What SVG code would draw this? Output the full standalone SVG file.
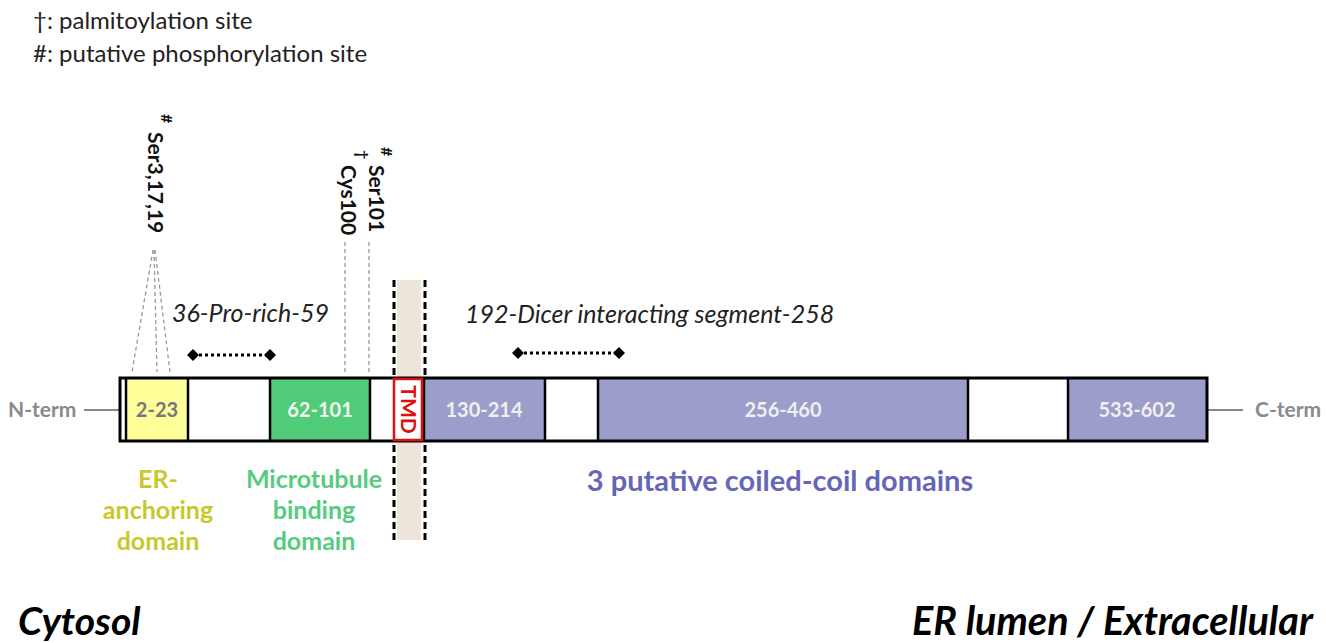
<svg xmlns="http://www.w3.org/2000/svg" width="1326" height="643" viewBox="0 0 1326 643">
<style>
text{font-family:Lato,"Open Sans","Liberation Sans",sans-serif}
.leg{font-size:24px;fill:#222}
.term{font-size:21px;fill:#8a8a8a;font-weight:bold}
.seg{stroke:#000;stroke-width:2.5}
.lbl{font-size:20px;font-weight:bold;text-anchor:middle}
.site{font-size:21px;font-weight:bold;fill:#111}
.mark{font-size:16px;font-weight:bold;fill:#111}
.gd{stroke:#999;stroke-width:1.3;stroke-dasharray:4 3;fill:none}
.dot{stroke:#000;stroke-width:3;stroke-dasharray:3 3}
.it{font-size:25px;font-style:italic;fill:#222}
.tmdl{stroke:#000;stroke-width:3;stroke-dasharray:7 4}
.big{font-size:39px;font-weight:bold;font-style:italic;fill:#000}
.dlab{font-size:25px;font-weight:bold;text-anchor:middle}
</style>
<defs>
<marker id="dia" markerWidth="12" markerHeight="12" refX="6" refY="6" markerUnits="userSpaceOnUse" orient="auto">
<path d="M0,6 L6,0 L12,6 L6,12 Z" fill="#000"/>
</marker>
</defs>
<rect width="1326" height="643" fill="#fff"/>

<g id="legend">
<text class="leg" x="33" y="29">†: palmitoylation site</text>
<text class="leg" x="33" y="62">#: putative phosphorylation site</text>
</g>

<g id="tmd-band">
<rect x="397" y="280" width="24" height="260" fill="#ede4da"/>
</g>

<g id="connectors">
<line x1="84" y1="410" x2="120" y2="410" stroke="#888" stroke-width="2"/>
<line x1="1207" y1="410" x2="1243" y2="410" stroke="#888" stroke-width="2"/>
<line class="gd" x1="153" y1="250" x2="132" y2="372"/>
<line class="gd" x1="154" y1="250" x2="157" y2="372"/>
<line class="gd" x1="155" y1="250" x2="170" y2="372"/>
<line class="gd" x1="345" y1="242" x2="345" y2="372"/>
<line class="gd" x1="369" y1="242" x2="369" y2="372"/>
<line class="dot" x1="193" y1="355" x2="270" y2="355" marker-start="url(#dia)" marker-end="url(#dia)"/>
<line class="dot" x1="518" y1="353" x2="619" y2="353" marker-start="url(#dia)" marker-end="url(#dia)"/>
<line class="tmdl" x1="394" y1="280" x2="394" y2="540"/>
<line class="tmdl" x1="425" y1="280" x2="425" y2="540"/>
</g>

<g id="n-term"><text class="term" x="8" y="417">N-term</text></g>
<g id="c-term"><text class="term" x="1255" y="417">C-term</text></g>

<g id="bar">
<rect x="120" y="378" width="1087" height="63" fill="#fff"/>
<g id="seg-2-23">
<rect x="127" y="378" width="61" height="63" fill="#ffff99"/>
<text class="lbl" x="157" y="417" fill="#77767f">2-23</text>
</g>
<g id="seg-62-101">
<rect x="270" y="378" width="100" height="63" fill="#50cc78"/>
<text class="lbl" x="320" y="417" fill="#f4f4f4">62-101</text>
</g>
<g id="seg-130-214">
<rect x="424" y="378" width="121" height="63" fill="#9b9dcb"/>
<text class="lbl" x="484" y="417" fill="#f0f0f0">130-214</text>
</g>
<g id="seg-256-460">
<rect x="598" y="378" width="370" height="63" fill="#9b9dcb"/>
<text class="lbl" x="783" y="417" fill="#f0f0f0">256-460</text>
</g>
<g id="seg-533-602">
<rect x="1068" y="378" width="139" height="63" fill="#9b9dcb"/>
<text class="lbl" x="1137" y="417" fill="#f0f0f0">533-602</text>
</g>
<line class="seg" x1="126" y1="378" x2="126" y2="441"/>
<line class="seg" x1="188" y1="378" x2="188" y2="441"/>
<line class="seg" x1="270" y1="378" x2="270" y2="441"/>
<line class="seg" x1="370" y1="378" x2="370" y2="441"/>
<line class="seg" x1="424" y1="378" x2="424" y2="441"/>
<line class="seg" x1="545" y1="378" x2="545" y2="441"/>
<line class="seg" x1="598" y1="378" x2="598" y2="441"/>
<line class="seg" x1="968" y1="378" x2="968" y2="441"/>
<line class="seg" x1="1068" y1="378" x2="1068" y2="441"/>
<rect x="120" y="378" width="1087" height="63" fill="none" stroke="#000" stroke-width="3"/>
</g>

<g id="tmd">
<rect x="394" y="379" width="28" height="61" fill="#fff" stroke="#e01010" stroke-width="2.5"/>
<text transform="translate(401,409.5) rotate(90)" font-size="21" font-weight="bold" fill="#e01010" text-anchor="middle">TMD</text>
</g>

<g id="site-ser3">
<text class="site" transform="translate(148,132) rotate(90)">Ser3,17,19</text>
<text class="mark" transform="translate(161,114) rotate(90)">#</text>
</g>
<g id="site-cys100">
<text class="site" transform="translate(341,165) rotate(90)">Cys100</text>
<text class="mark" transform="translate(357,150) rotate(90)">†</text>
</g>
<g id="site-ser101">
<text class="site" transform="translate(369,165) rotate(90)">Ser101</text>
<text class="mark" transform="translate(381,147) rotate(90)">#</text>
</g>

<g id="pro-rich"><text class="it" x="172" y="322">36-Pro-rich-59</text></g>
<g id="dicer"><text class="it" x="465" y="323">192-Dicer interacting segment-258</text></g>

<g id="er-anchoring">
<text class="dlab" fill="#c8c82c" x="158" y="488">ER-</text>
<text class="dlab" fill="#c8c82c" x="158" y="519">anchoring</text>
<text class="dlab" fill="#c8c82c" x="158" y="550">domain</text>
</g>
<g id="microtubule">
<text class="dlab" fill="#55cc80" x="314" y="488">Microtubule</text>
<text class="dlab" fill="#55cc80" x="314" y="519">binding</text>
<text class="dlab" fill="#55cc80" x="314" y="550">domain</text>
</g>
<g id="coiled-coil">
<text class="dlab" fill="#6666b8" x="780" y="491" style="font-size:29px">3 putative coiled-coil domains</text>
</g>

<g id="cytosol"><text class="big" x="18" y="635">Cytosol</text></g>
<g id="er-lumen"><text class="big" x="912" y="635" style="font-size:39.6px">ER lumen / Extracellular</text></g>
</svg>
